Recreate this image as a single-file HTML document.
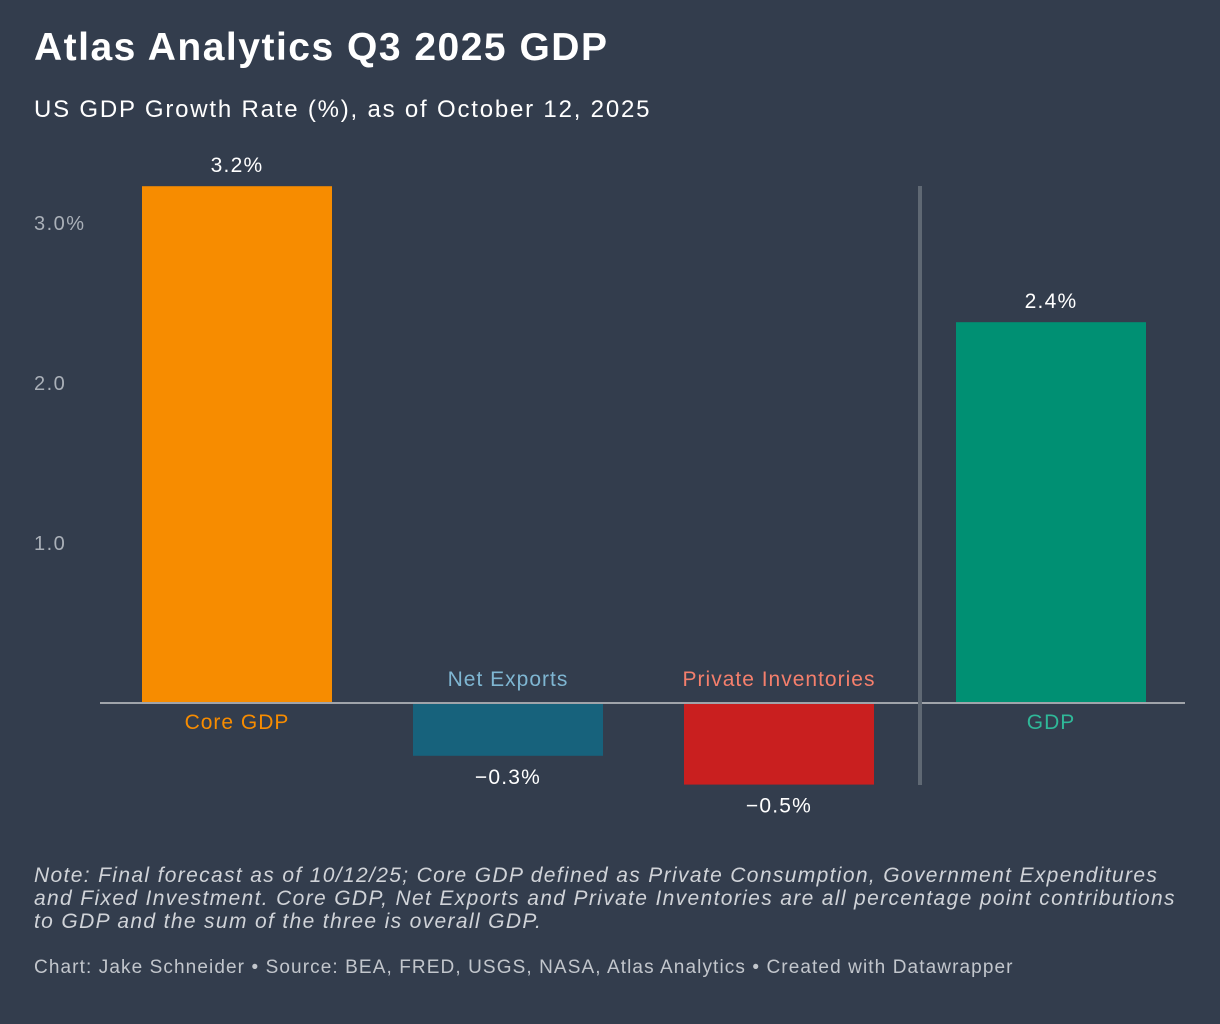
<!DOCTYPE html>
<html><head><meta charset="utf-8">
<style>
html,body{margin:0;padding:0;}
body{width:1220px;height:1024px;background:#333d4d;font-family:"Liberation Sans",sans-serif;overflow:hidden;position:relative;}
.t{position:absolute;white-space:nowrap;}
</style></head>
<body>
<div class="t" style="left:34px;top:26px;font-size:39px;font-weight:bold;color:#fff;letter-spacing:1.5px;">Atlas Analytics Q3 2025 GDP</div>
<div class="t" style="left:34px;top:96px;font-size:24px;color:#fff;letter-spacing:1.8px;">US GDP Growth Rate (%), as of October 12, 2025</div>
<svg id="chart" width="1220" height="850" style="position:absolute;left:0;top:0;" xmlns="http://www.w3.org/2000/svg"></svg>
<div class="t" style="left:34px;top:864px;font-size:21px;font-style:italic;color:#d0d3d8;line-height:23px;white-space:normal;width:1160px;letter-spacing:1.35px;">Note: Final forecast as of 10/12/25; Core GDP defined as Private Consumption, Government Expenditures and Fixed Investment. Core GDP, Net Exports and Private Inventories are all percentage point contributions to GDP and the sum of the three is overall GDP.</div>
<div class="t" style="left:34px;top:957px;font-size:19px;color:#c2c6cc;letter-spacing:1.1px;">Chart: Jake Schneider • Source: BEA, FRED, USGS, NASA, Atlas Analytics • Created with Datawrapper</div>
<script>
const categories=["Core GDP","Net Exports","Private Inventories","GDP"];
const values=[3.23,-0.33,-0.51,2.38];
const valueLabels=["3.2%","\u22120.3%","\u22120.5%","2.4%"];
const colors=["#f78c00","#17627c","#c91f1f","#009073"];
const labelColors=["#f78c00","#7fb6d2","#f57f6c","#2fb898"];
const ticks=[1,2,3];
const tickLabels=["1.0","2.0","3.0%"];
const NS="http://www.w3.org/2000/svg";
const svg=document.getElementById('chart');
const zeroY=703,pxPer=160;
const y=v=>zeroY-v*pxPer;
const barX=[142,413,684,956],barW=190;
function mk(tag,attrs,txt){const e=document.createElementNS(NS,tag);for(const k in attrs)e.setAttribute(k,attrs[k]);if(txt!=null)e.textContent=txt;svg.appendChild(e);return e;}
ticks.forEach((t,i)=>{
  const e=mk('text',{x:34,y:y(t)+7,'font-size':20,'letter-spacing':1.5,fill:'#aab0b8','font-family':'Liberation Sans'},tickLabels[i]);
  
  
});
values.forEach((v,i)=>{
  const top=Math.min(y(v),zeroY),h=Math.abs(y(v)-zeroY);
  const r=mk('rect',{x:barX[i],y:top,width:barW,height:h,fill:colors[i]});
  
  
  const cx=barX[i]+barW/2;
  const vl=mk('text',{x:cx,y:v>=0?y(v)-14:y(v)+28,'text-anchor':'middle','font-size':21,'letter-spacing':1.2,fill:'#fff','font-family':'Liberation Sans'},valueLabels[i]);
  
  
  const cl=mk('text',{x:cx,y:v>=0?zeroY+26:zeroY-17,'text-anchor':'middle','font-size':21,'letter-spacing':1,fill:labelColors[i],'font-family':'Liberation Sans'},categories[i]);
  
  
});
const base=mk('line',{x1:100,x2:1185,y1:zeroY,y2:zeroY,stroke:'#a0a4aa','stroke-width':2});


const sep=mk('line',{x1:920,x2:920,y1:186,y2:785,stroke:'#5f6873','stroke-width':4});


</script>
</body></html>
